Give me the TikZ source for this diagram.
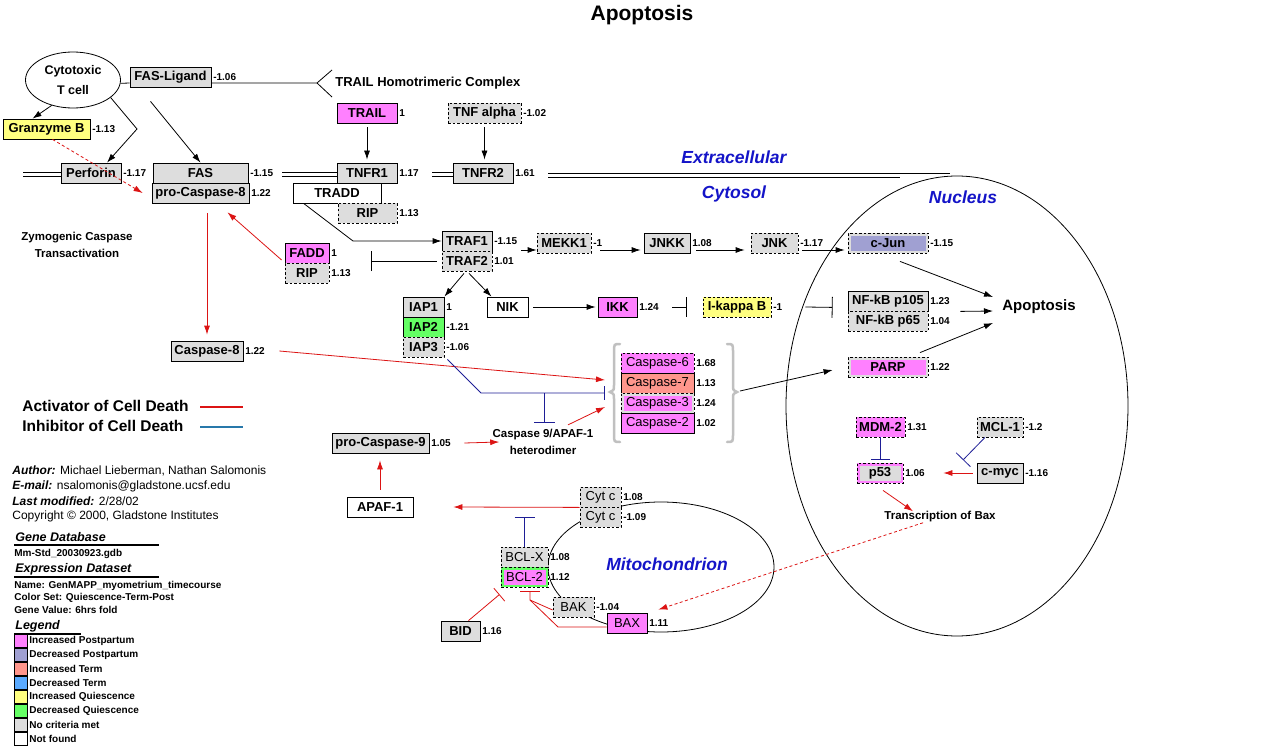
\documentclass[tikz,border=0pt]{standalone}
\usepackage{fontspec}
\setmainfont{Liberation Sans}
\usetikzlibrary{arrows.meta,positioning,shapes.geometric}

\definecolor{nocrit}{RGB}{221,221,221}
\definecolor{incpost}{RGB}{255,128,255}
\definecolor{decpost}{RGB}{160,160,210}
\definecolor{incterm}{RGB}{255,150,140}
\definecolor{decterm}{RGB}{90,170,255}
\definecolor{incquie}{RGB}{255,255,128}
\definecolor{decquie}{RGB}{100,255,100}
\definecolor{actred}{RGB}{220,20,20}
\definecolor{inhblue}{RGB}{30,30,150}
\definecolor{leginh}{RGB}{40,120,170}
\definecolor{regblue}{RGB}{20,20,200}
\definecolor{bracegray}{RGB}{192,192,192}

\newcommand{\genefont}{\bfseries\fontsize{13}{14}\selectfont}
\newcommand{\plainfont}{\fontsize{13}{14}\selectfont}
\newcommand{\valfont}{\bfseries\fontsize{10}{11}\selectfont}
\newcommand{\infofont}{\fontsize{12}{14}\selectfont}
\newcommand{\smallfont}{\bfseries\fontsize{10}{11}\selectfont}

\tikzset{
    gene/.style={draw, fill=nocrit, minimum height=20pt, inner sep=1pt, font=\genefont},
    dgene/.style={gene, dash pattern=on 2.5pt off 2pt},
    val/.style={font=\valfont, inner sep=1.5pt},
    twotone/.style 2 args={fill=#1, path picture={\fill[#2] ([shift={(2.5pt,-2.5pt)}]path picture bounding box.north west) rectangle ([shift={(-2.5pt,2.5pt)}]path picture bounding box.south east);}},
    arr/.style={-{Latex[length=9pt,width=6pt]}},
    act/.style={arr, actred},
    dashact/.style={act, dash pattern=on 3pt off 2.5pt},
    region/.style={text=regblue, font=\bfseries\itshape\fontsize{17.5}{18}\selectfont},
    note/.style={font=\bfseries\fontsize{11.5}{17}\selectfont, align=center, inner sep=0pt},
    bracket/.style={bracegray, line width=2.5pt, line cap=round}
}

\begin{document}
\begin{tikzpicture}[x=1pt, y=-1pt, line width=0.8pt]
    % page
    \fill[white] (0,0) rectangle (1283,749);
    \useasboundingbox (0,0) rectangle (1283,749);

    \node[font=\bfseries\fontsize{21}{22}\selectfont] (title) at (642,15) {Apoptosis};

    % nucleus and mitochondrion outlines
    \draw (957,406) ellipse (171pt and 230pt);
    \draw (661,567) ellipse (113pt and 65pt);

    % compartment names
    \node[region] (extra) at (734,157) {Extracellular};
    \node[region] (cyto) at (734,194) {Cytosol};
    \node[region] (nucl) at (963,197) {Nucleus};
    \node[region] (mito) at (667,564) {Mitochondrion};

    % cytotoxic T cell side
    \node[ellipse, draw, minimum width=95pt, minimum height=56pt, align=center, font=\bfseries\fontsize{12.5}{20}\selectfont] (tcell) at (73,80) {Cytotoxic\\T cell};
    \node[gene, minimum width=81pt, label={[val]right:-1.06}] (fasl) at (170.5,77) {FAS-Ligand};
    \coordinate (fork) at (317,83);
    \coordinate (forkup) at (332,70);
    \coordinate (forkdn) at (332,97);
    \node[anchor=west, inner sep=0pt, font=\bfseries\fontsize{13}{14}\selectfont] (trailcx) at (335,83) {TRAIL Homotrimeric Complex};
    \node[gene, fill=incquie, minimum width=87pt, label={[val]right:-1.13}] (granz) at (46.5,129) {Granzyme B};
    \node[gene, minimum width=60pt, label={[val]right:-1.17}] (perf) at (91,173) {Perforin};
    \node[gene, minimum width=95pt, label={[val]right:-1.15}] (fas) at (200.5,173) {FAS};
    \node[gene, minimum width=97pt, label={[val]right:1.22}] (procasp8) at (200.5,193) {pro-Caspase-8};
    \node[note] (zymo) at (77,245) {Zymogenic Caspase\\Transactivation};

    % TNF receptors
    \node[gene, fill=incpost, minimum width=60pt, label={[val]right:1}] (trail) at (367,113) {TRAIL};
    \node[dgene, minimum width=73pt, label={[val]right:-1.02}] (tnfa) at (484.5,113) {TNF alpha};
    \node[gene, minimum width=60pt, label={[val]right:1.17}] (tnfr1) at (367,173) {TNFR1};
    \node[gene, minimum width=60pt, label={[val]right:1.61}] (tnfr2) at (483,173) {TNFR2};
    \node[gene, fill=white, minimum width=88pt] (tradd) at (337,193) {TRADD};
    \node[dgene, minimum width=59pt, label={[val]right:1.13}] (rip1) at (367.5,213) {RIP};

    % membrane, drawn as pairs of lines
    \foreach \dy in {-0.5,3.5} {
        \draw ([yshift=-\dy pt]perf.west -| 23,0) -- ([yshift=-\dy pt]perf.west);
        \draw ([yshift=-\dy pt]tnfr1.west -| 282,0) -- ([yshift=-\dy pt]tnfr1.west);
        \draw ([yshift=-\dy pt]tnfr2.west -| 432,0) -- ([yshift=-\dy pt]tnfr2.west);
    }
    \draw (548,173.5) -- (950,173.5);
    \draw (548,177.5) -- (900,177.5);

    % TRAF / kinase chain
    \node[gene, minimum width=50pt, label={[val]right:-1.15}] (traf1) at (467,241) {TRAF1};
    \node[dgene, minimum width=50pt, label={[val]right:1.01}] (traf2) at (467,261) {TRAF2};
    \node[dgene, minimum width=54pt, label={[val]right:-1}] (mekk1) at (564,243) {MEKK1};
    \node[gene, minimum width=46pt, label={[val]right:1.08}] (jnkk) at (667,243) {JNKK};
    \node[dgene, minimum width=47pt, label={[val]right:-1.17}] (jnk) at (774.5,243) {JNK};
    \node[dgene, twotone={nocrit}{decpost}, minimum width=80pt, label={[val]right:-1.15}] (cjun) at (888,243) {c-Jun};
    \node[gene, fill=incpost, minimum width=44pt, label={[val]right:1}] (fadd) at (307,253) {FADD};
    \node[dgene, minimum width=44pt, label={[val]right:1.13}] (rip2) at (307,273) {RIP};
    \node[gene, minimum width=41pt, label={[val]right:1}] (iap1) at (423.5,307) {IAP1};
    \node[gene, fill=decquie, minimum width=41pt, label={[val]right:-1.21}] (iap2) at (423.5,327) {IAP2};
    \node[dgene, minimum width=41pt, label={[val]right:-1.06}] (iap3) at (423.5,347) {IAP3};
    \node[gene, fill=white, minimum width=41pt] (nik) at (507.5,307) {NIK};
    \node[gene, fill=incpost, minimum width=39pt, label={[val]right:1.24}] (ikk) at (617.5,307) {IKK};
    \node[dgene, fill=incquie, minimum width=68pt, label={[val]right:-1}] (ikb) at (737,307) {I-kappa B};

    % nucleus
    \node[gene, minimum width=80pt, label={[val]right:1.23}] (nfkb1) at (888,301) {NF-kB p105};
    \node[dgene, minimum width=80pt, label={[val]right:1.04}] (nfkb2) at (888,321) {NF-kB p65};
    \node[anchor=west, inner sep=0pt, font=\bfseries\fontsize{15}{16}\selectfont] (apo) at (1002,307) {Apoptosis};
    \node[dgene, twotone={nocrit}{incpost}, minimum width=80pt, label={[val]right:1.22}] (parp) at (888,367) {PARP};
    \node[dgene, fill=incpost, minimum width=49pt, label={[val]right:1.31}] (mdm2) at (880.5,427) {MDM-2};
    \node[dgene, minimum width=46pt, label={[val]right:-1.2}] (mcl1) at (1000,427) {MCL-1};
    \node[dgene, twotone={incpost}{nocrit}, minimum width=46pt, label={[val]right:1.06}] (p53) at (880,473) {p53};
    \node[gene, minimum width=46pt, label={[val]right:-1.16}] (cmyc) at (1000,473) {c-myc};
    \node[note] (bxt) at (940,517) {Transcription of Bax};

    % caspases
    \node[gene, minimum width=72pt, label={[val]right:1.22}] (casp8) at (207,351) {Caspase-8};
    \node[dgene, font=\plainfont, fill=incpost, minimum width=73pt, label={[val]right:1.68}] (casp6) at (657.5,363) {Caspase-6};
    \node[gene, font=\plainfont, fill=incterm, minimum width=73pt, label={[val]right:1.13}] (casp7) at (657.5,383) {Caspase-7};
    \node[dgene, font=\plainfont, twotone={nocrit}{incpost}, minimum width=73pt, label={[val]right:1.24}] (casp3) at (657.5,403) {Caspase-3};
    \node[gene, font=\plainfont, fill=incpost, minimum width=73pt, label={[val]right:1.02}] (casp2) at (657.5,423) {Caspase-2};
    \draw[bracket] (620,344) .. controls (614,344) .. (614,352) -- (614,385) .. controls (614,390) .. (610,392) .. controls (614,394) .. (614,399) -- (614,434) .. controls (614,442) .. (620,442);
    \draw[bracket] (727,344) .. controls (733,344) .. (733,352) -- (733,385) .. controls (733,390) .. (737,392) .. controls (733,394) .. (733,399) -- (733,434) .. controls (733,442) .. (727,442);
    \coordinate (lbrace) at (605,393);
    \coordinate (rbrace) at (740,391);
    \node[note] (hetero) at (543,442) {Caspase 9/APAF-1\\heterodimer};
    \node[gene, minimum width=97pt, label={[val]right:1.05}] (procasp9) at (380.5,443) {pro-Caspase-9};
    \node[gene, fill=white, minimum width=66pt] (apaf1) at (380,507) {APAF-1};

    % mitochondrion
    \node[dgene, font=\plainfont, minimum width=41pt, label={[val]right:1.08}] (cytc1) at (600.5,497) {Cyt c};
    \node[dgene, font=\plainfont, minimum width=41pt, label={[val]right:-1.09}] (cytc2) at (600.5,517) {Cyt c};
    \node[dgene, font=\plainfont, minimum width=47pt, label={[val]right:1.08}] (bclx) at (524.5,557) {BCL-X};
    \node[dgene, font=\plainfont, twotone={decquie}{incpost}, minimum width=47pt, label={[val]right:1.12}] (bcl2) at (524.5,577) {BCL-2};
    \node[dgene, font=\plainfont, minimum width=41pt, label={[val]right:-1.04}] (bak) at (573.5,607) {BAK};
    \node[gene, font=\plainfont, fill=incpost, minimum width=40pt, label={[val,fill=white]right:1.11}] (bax) at (627,623) {BAX};
    \node[gene, minimum width=39pt, label={[val]right:1.16}] (bid) at (460.5,631) {BID};

    % receptor connections
    \draw (tcell.-4) -- ([yshift=-6pt]fasl.west);
    \draw ([yshift=-6pt]fasl.east) -- (fork) -- (forkup) (fork) -- (forkdn);
    \draw[arr] (tcell.-130) -- ([xshift=-14pt]granz.north);
    \coordinate (pbend) at (137,129);
    \draw[arr] (tcell.-25) -- (pbend) -- ([xshift=16pt]perf.north);
    \draw[arr] ([shift={(-20pt,-14pt)}]fasl.south) -- (fas.north);
    \draw[dashact] ([xshift=6pt]granz.south) -- ([xshift=-9pt]procasp8.west);
    \draw[arr, shorten <=4pt, shorten >=3pt] (trail) -- (tnfr1);
    \draw[arr, shorten <=4pt, shorten >=3pt] (tnfa.south) -- (tnfa.south |- tnfr2.north);

    % TRADD to TRAF
    \coordinate (tbend) at (353,241);
    \draw[arr] ([xshift=11pt]tradd.south west) -- (tbend) -- (traf1.west);
    \coordinate (tbar) at (371,261);
    \draw[-{Bar[width=20pt]}, shorten <=5pt] (traf2.west) -- (tbar);
    \draw[arr] ([shift={(29pt,-9pt)}]traf1.east) -- ([yshift=-7pt]mekk1.west);
    \draw[arr] ([shift={(9pt,-7pt)}]mekk1.east) -- ([shift={(-3pt,-7pt)}]jnkk.west);
    \draw[arr] ([shift={(6pt,-7pt)}]jnkk.east) -- ([shift={(-6pt,-7pt)}]jnk.west);
    \draw[arr] ([shift={(4pt,-7pt)}]jnk.east) -- ([shift={(-3pt,-7pt)}]cjun.west);
    \draw[arr] ([shift={(-3pt,-2pt)}]traf2.south) -- (iap1.north east);
    \draw[arr] ([shift={(2pt,-2pt)}]traf2.south) -- ([xshift=-16pt]nik.north);
    \draw[arr, shorten <=5pt, shorten >=2pt] (nik) -- (ikk);
    \draw[-{Bar[width=20pt]}] ([xshift=35pt]ikk.east) -- ([xshift=-16pt]ikb.west);
    \draw[-{Bar[width=21pt]}] ([xshift=34pt]ikb.east) -- ([shift={(-15pt,4pt)}]nfkb1.south west);

    % towards apoptosis
    \draw[arr] ([shift={(12pt,-8pt)}]cjun.south) -- ([shift={(-9pt,10pt)}]apo.west);
    \draw[arr] ([xshift=32pt]nfkb1.south east) -- ([shift={(-9pt,-4pt)}]apo.west);
    \draw[arr] ([shift={(32pt,4pt)}]parp.north) -- ([shift={(-9pt,-16pt)}]apo.west);
    \draw[arr] (rbrace) -- ([shift={(-15pt,-3pt)}]parp.west);

    % caspase cascade
    \draw[act, shorten <=10pt, shorten >=6pt] (procasp8.south -| casp8) -- (casp8.north);
    \draw[act] ([shift={(-3pt,-7pt)}]fadd.west) -- ([shift={(27pt,-9pt)}]procasp8.south);
    \draw[act] ([xshift=36pt]casp8.east) -- ([yshift=13pt]lbrace);
    \draw[act] ([shift={(25pt,4pt)}]hetero.north) -- ([yshift=-14pt]lbrace);
    \coordinate (ibend) at (481,393);
    \coordinate (ijoin) at (544,393);
    \coordinate (hbar) at (544,423);
    \draw[inhblue, -{Bar[width=14pt]}] ([shift={(3pt,-2pt)}]iap3.south east) -- (ibend) -- (lbrace);
    \draw[inhblue, -{Bar[width=21pt]}] (ijoin) -- (hbar);
    \draw[act] ([xshift=35pt]procasp9.east) -- ([xshift=7pt]hetero.west);
    \draw[act, shorten <=7pt, shorten >=7pt] (apaf1.north) -- (apaf1.north |- procasp9.south);

    % mitochondrial release
    \draw[act] (cytc1.south west) -- ([xshift=40pt]apaf1.east);
    \draw[inhblue, -{Bar[width=20pt]}] (bclx.north) -- (bclx.north |- cytc2);
    \draw[actred, -{Bar[width=17pt]}] ([xshift=8pt]bid.north) -- ([shift={(-1pt,-7pt)}]bcl2.south west);
    \coordinate (bj) at (530,600);
    \coordinate (bk) at (558,627);
    \draw[actred, -{Bar[width=20pt]}] ([yshift=-4pt]bax.west) -- (bk) -- (bj) -- ([shift={(5.5pt,-4pt)}]bcl2.south);
    \draw[actred] ([yshift=-3pt]bak.west) -- (bj);

    % p53 branch
    \draw[inhblue, -{Bar[width=19pt]}, shorten >=3pt] (mdm2.south) -- (mdm2.south |- p53.north);
    \draw[act] ([xshift=-4pt]cmyc.west) -- ([xshift=40pt]p53.east);
    \coordinate (mbar) at (963,460);
    \draw[inhblue, -{Bar[width=20pt]}] ([xshift=-15pt]mcl1.south) -- (mbar);
    \draw[act] ([shift={(3pt,-7pt)}]p53.south) -- ([xshift=-27pt]bxt.north);
    \draw[dashact] ([xshift=-17pt]bxt.south) -- ([shift={(11pt,3pt)}]bax.north east);

    % activator / inhibitor key
    \node[anchor=west, inner sep=0pt, font=\bfseries\fontsize{15.5}{16}\selectfont] (legact) at (22,406) {Activator of Cell Death};
    \node[anchor=west, inner sep=0pt, font=\bfseries\fontsize{15.5}{16}\selectfont] (leginh) at (22,426) {Inhibitor of Cell Death};
    \draw[actred, line width=1.1pt] (200,407) -- (243,407);
    \draw[leginh, line width=1.1pt] (200,427) -- (243,427);

    % info block
    \node[anchor=west, inner sep=0pt, font=\infofont] (author) at (12,471) {\textbf{\textit{Author:}} Michael Lieberman, Nathan Salomonis};
    \node[anchor=west, inner sep=0pt, font=\infofont] (email) at (12,486) {\textbf{\textit{E-mail:}} nsalomonis@gladstone.ucsf.edu};
    \node[anchor=west, inner sep=0pt, font=\infofont] (modif) at (12,501) {\textbf{\textit{Last modified:}} 2/28/02};
    \node[anchor=west, inner sep=0pt, font=\infofont] (copy) at (12,516) {Copyright © 2000, Gladstone Institutes};
    \node[anchor=west, inner sep=0pt, font=\bfseries\itshape\fontsize{12.5}{13}\selectfont] (gdb) at (15,537) {Gene Database};
    \draw[line width=2.5pt] (14,545) -- (159,545);
    \node[anchor=west, inner sep=0pt, font=\smallfont] (gdbname) at (14,554) {Mm-Std\_20030923.gdb};
    \node[anchor=west, inner sep=0pt, font=\bfseries\itshape\fontsize{12.5}{13}\selectfont] (eds) at (15,569) {Expression Dataset};
    \draw[line width=2.5pt] (14,577) -- (159,577);
    \node[anchor=west, inner sep=0pt, font=\smallfont] (edsname) at (14,586) {Name: GenMAPP\_myometrium\_timecourse};
    \node[anchor=west, inner sep=0pt, font=\smallfont] (colset) at (14,598) {Color Set: Quiescence-Term-Post};
    \node[anchor=west, inner sep=0pt, font=\smallfont] (gval) at (14,610) {Gene Value: 6hrs fold};
    \node[anchor=west, inner sep=0pt, font=\bfseries\itshape\fontsize{12.5}{13}\selectfont] (leg) at (15,626) {Legend};
    \draw[line width=2.5pt] (14,634) -- (81,634);

    % colour legend
    \foreach \c/\t [count=\i, evaluate=\i as \y using 641+14*(\i-1)] in {incpost/Increased Postpartum, decpost/Decreased Postpartum, incterm/Increased Term, decterm/Decreased Term, incquie/Increased Quiescence, decquie/Decreased Quiescence, nocrit/No criteria met, white/Not found} {
        \draw[fill=\c] (14,\y-6.5) rectangle (27,\y+6.5);
        \node[anchor=west, inner sep=0pt, font=\smallfont] at (29,\y) {\t};
    }
\end{tikzpicture}
\end{document}
